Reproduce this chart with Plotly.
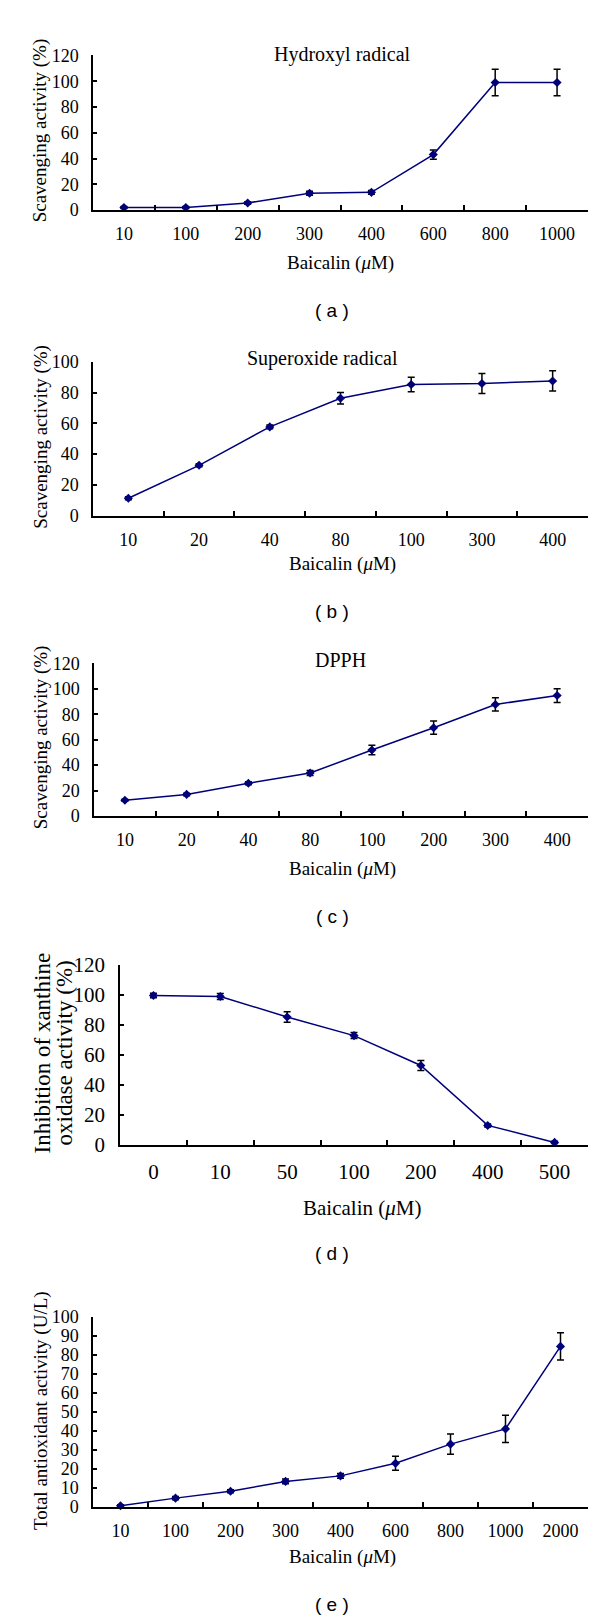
import plotly.graph_objects as go

# ---------------- data ----------------
a_x = ["10", "100", "200", "300", "400", "600", "800", "1000"]
a_y = [2.0, 2.0, 5.6, 13.1, 13.8, 43.1, 99.0, 99.0]
a_err = [0.8, 0.8, 1.0, 1.5, 1.5, 3.6, 10.3, 10.3]

b_x = ["10", "20", "40", "80", "100", "300", "400"]
b_y = [11.3, 32.7, 57.7, 76.3, 85.3, 85.9, 87.6]
b_err = [1.0, 1.0, 1.2, 3.7, 4.7, 6.5, 6.6]

c_x = ["10", "20", "40", "80", "100", "200", "300", "400"]
c_y = [12.4, 17.0, 25.8, 33.8, 51.9, 69.4, 87.7, 94.7]
c_err = [0.8, 1.0, 1.2, 2.0, 3.7, 5.2, 5.2, 5.4]

d_x = ["0", "10", "50", "100", "200", "400", "500"]
d_y = [99.6, 98.9, 85.3, 72.9, 53.0, 13.1, 1.8]
d_err = [1.5, 2.0, 3.5, 2.0, 3.3, 1.0, 0.8]

e_x = ["10", "100", "200", "300", "400", "600", "800", "1000", "2000"]
e_y = [0.5, 4.5, 8.1, 13.3, 16.2, 22.8, 32.9, 40.9, 84.3]
e_err = [0.5, 0.8, 0.8, 1.2, 1.3, 3.7, 5.3, 7.2, 7.2]

W, H = 600, 1623
SERIF = "Liberation Serif, Times New Roman, serif"
SANS = "Liberation Sans, Arial, sans-serif"
NAVY = "#00007a"


def fx(p):
    return p / W


def fy(p):
    return 1 - p / H


panels = [
    dict(x=a_x, y=a_y, e=a_err, xd=(85, 580), yd=(36, 193), ymax=120, dt=20, fs=18, ts=19,
         title="Hydroxyl radical", tpos=(334, 35), xt=247, xtx=332, lab="( a )", laby=295,
         ytitle=["Scavenging activity (%)"], ytx=[32], yty=112, yts=19),
    dict(x=b_x, y=b_y, e=b_err, xd=(85, 580), yd=(347, 503), ymax=100, dt=20, fs=18, ts=19,
         title="Superoxide radical", tpos=(314, 344), xt=552, xtx=334, lab="( b )", laby=600,
         ytitle=["Scavenging activity (%)"], ytx=[33], yty=423, yts=19),
    dict(x=c_x, y=c_y, e=c_err, xd=(86, 580), yd=(653, 808), ymax=120, dt=20, fs=18, ts=19,
         title="DPPH", tpos=(332, 650), xt=862, xtx=334, lab="( c )", laby=910,
         ytitle=["Scavenging activity (%)"], ytx=[33], yty=728, yts=19),
    dict(x=d_x, y=d_y, e=d_err, xd=(112, 580), yd=(959, 1142), ymax=120, dt=20, fs=21, ts=21,
         title=None, tpos=None, xt=1206, xtx=354, lab="( d )", laby=1252,
         ytitle=["Inhibition of xanthine", "oxidase activity (%)"], ytx=[34, 56], yty=1049, yts=23),
    dict(x=e_x, y=e_y, e=e_err, xd=(85, 580), yd=(1316, 1509), ymax=100, dt=10, fs=18, ts=19,
         title=None, tpos=None, xt=1560, xtx=334, lab="( e )", laby=1608,
         ytitle=["Total antioxidant activity (U/L)"], ytx=[33], yty=1412, yts=19),
]

fig = go.Figure()
annotations = []
layout = {}

for i, p in enumerate(panels, start=1):
    xa = "x" if i == 1 else f"x{i}"
    ya = "y" if i == 1 else f"y{i}"
    xkey = "xaxis" if i == 1 else f"xaxis{i}"
    ykey = "yaxis" if i == 1 else f"yaxis{i}"

    fig.add_trace(go.Scatter(
        x=p["x"], y=p["y"], xaxis=xa, yaxis=ya, mode="lines+markers",
        line=dict(color=NAVY, width=1.5),
        marker=dict(symbol="diamond", size=7, color=NAVY),
        error_y=dict(type="data", array=p["e"], visible=True, color="black",
                     thickness=1.5, width=3.5),
        showlegend=False, cliponaxis=False,
    ))

    n = len(p["x"])
    layout[xkey] = dict(
        domain=[fx(p["xd"][0]), fx(p["xd"][1])], anchor=ya, type="category",
        categoryorder="array", categoryarray=p["x"],
        range=[-0.5, n - 0.5], tickson="boundaries", ticks="inside", ticklen=5,
        tickwidth=1.5, tickcolor="black", showline=True, linecolor="black",
        linewidth=1.5, showgrid=False, zeroline=False,
        tickfont=dict(family=SERIF, size=p["fs"], color="black"),
        ticklabelstandoff=7, fixedrange=True,
    )
    layout[ykey] = dict(
        domain=[fy(p["yd"][1]), fy(p["yd"][0])], anchor=xa,
        range=[0, p["ymax"]], dtick=p["dt"], tick0=0, ticks="inside", ticklen=4,
        tickwidth=1.5, tickcolor="black", showline=True, linecolor="black",
        linewidth=1.5, showgrid=False, zeroline=False,
        tickfont=dict(family=SERIF, size=p["fs"], color="black"),
        ticklabelstandoff=9, fixedrange=True,
    )

    if p["title"]:
        annotations.append(dict(
            text=p["title"], x=fx(p["tpos"][0]), y=fy(p["tpos"][1]), xref="paper", yref="paper",
            showarrow=False, xanchor="center", yanchor="middle",
            font=dict(family=SERIF, size=20, color="black")))
    annotations.append(dict(
        text="Baicalin (<i>μ</i>M)", x=fx(p["xtx"]), y=fy(p["xt"]), xref="paper", yref="paper",
        showarrow=False, xanchor="center", yanchor="middle",
        font=dict(family=SERIF, size=p["ts"], color="black")))
    annotations.append(dict(
        text=p["lab"], x=fx(324), y=fy(p["laby"]), xref="paper", yref="paper",
        showarrow=False, xanchor="center", yanchor="middle",
        font=dict(family=SANS, size=19, color="black")))
    for t, tx in zip(p["ytitle"], p["ytx"]):
        annotations.append(dict(
            text=t, x=fx(tx), y=fy(p["yty"]), xref="paper", yref="paper",
            showarrow=False, xanchor="center", yanchor="middle", textangle=-90,
            font=dict(family=SERIF, size=p["yts"], color="black")))

fig.update_layout(
    width=W, height=H, margin=dict(l=0, r=0, t=0, b=0),
    paper_bgcolor="white", plot_bgcolor="white",
    annotations=annotations, **layout,
)

fig.write_html("out.html")
